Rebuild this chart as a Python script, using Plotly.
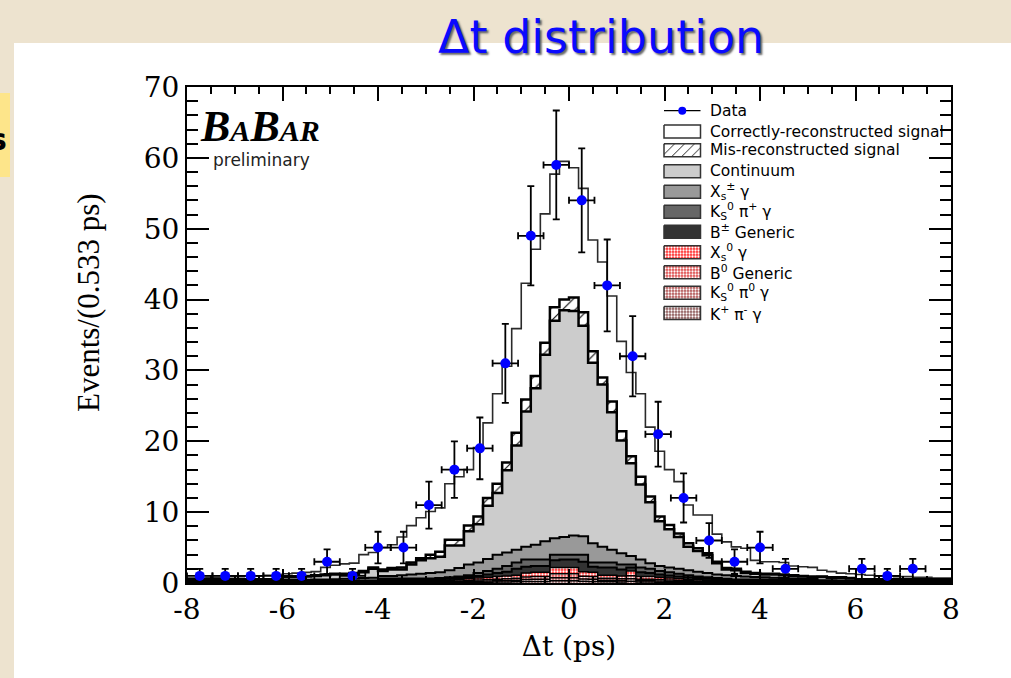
import numpy as np
import plotly.graph_objects as go

# ---------------- data ----------------
x_min, x_max = -8.0, 8.0
n_data_bins = 30
n_mc_bins = 80

data_counts = [1, 1, 1, 1, 1, 3, 1, 5, 5, 11, 16, 19, 31, 49, 59,
               54, 42, 32, 21, 12, 6, 3, 5, 2, 0, 0, 2, 1, 2, 0]

# stacked MC components (events per 0.533 ps, 0.2 ps bins), bottom -> top
kpi_gamma = [0.01]*10 + [0.02]*10 + [0.05]*6 + [0.06, 0.06, 0.07, 0.08] + \
    [0.10, 0.12, 0.14, 0.15, 0.17, 0.20, 0.22, 0.22, 0.30, 0.30] + \
    [0.30, 0.25, 0.22, 0.18, 0.17, 0.15, 0.25, 0.14, 0.13, 0.12] + \
    [0.10, 0.09, 0.08, 0.07, 0.06, 0.05, 0.05, 0.04, 0.04, 0.04] + \
    [0.04]*6 + [0.02]*4 + [0.01]*10
ks0pi0_gamma = [0.01]*10 + [0.03]*10 + [0.06]*6 + [0.07, 0.08, 0.09, 0.12] + \
    [0.14, 0.16, 0.18, 0.20, 0.22, 0.28, 0.30, 0.30, 0.45, 0.45] + \
    [0.45, 0.32, 0.30, 0.22, 0.22, 0.20, 0.35, 0.18, 0.18, 0.16] + \
    [0.14, 0.12, 0.10, 0.09, 0.08, 0.07, 0.06, 0.05, 0.05, 0.05] + \
    [0.05]*6 + [0.03]*4 + [0.01]*10
b0_generic = [0.02]*10 + [0.04]*10 + [0.08]*6 + [0.09, 0.10, 0.11, 0.15] + \
    [0.18, 0.20, 0.22, 0.25, 0.28, 0.35, 0.38, 0.38, 0.55, 0.55] + \
    [0.55, 0.40, 0.38, 0.28, 0.28, 0.25, 0.42, 0.22, 0.22, 0.20] + \
    [0.18, 0.15, 0.12, 0.11, 0.10, 0.09, 0.08, 0.06, 0.06, 0.06] + \
    [0.06]*6 + [0.04]*4 + [0.02]*10
xs0_gamma = [0.02]*10 + [0.05]*10 + [0.11]*6 + [0.13, 0.16, 0.18, 0.25] + \
    [0.28, 0.32, 0.36, 0.40, 0.43, 0.57, 0.60, 0.60, 0.90, 0.90] + \
    [0.90, 0.63, 0.60, 0.42, 0.43, 0.40, 0.68, 0.36, 0.37, 0.32] + \
    [0.28, 0.24, 0.20, 0.18, 0.16, 0.14, 0.11, 0.10, 0.10, 0.10] + \
    [0.10]*6 + [0.06]*4 + [0.02]*10
bpm_generic = [0.05]*10 + [0.10]*10 + [0.20]*6 + [0.20, 0.20, 0.25, 0.25] + \
    [0.30, 0.40, 0.50, 0.60, 0.90, 0.90, 0.90, 0.90, 1.00, 1.10] + \
    [1.10, 1.40, 0.80, 1.10, 1.10, 0.90, 0.50, 0.60, 0.50, 0.40] + \
    [0.35, 0.30, 0.30, 0.25, 0.20, 0.20, 0.20, 0.15, 0.15, 0.15] + \
    [0.15]*6 + [0.08]*4 + [0.05]*10
ks0pip_gamma = [0.05]*10 + [0.10]*10 + [0.15]*6 + [0.15, 0.20, 0.20, 0.25] + \
    [0.40, 0.50, 0.60, 0.80, 0.90, 1.00, 0.90, 0.90, 0.80, 0.70] + \
    [0.70, 1.00, 0.60, 0.70, 0.70, 0.70, 0.40, 0.70, 0.60, 0.50] + \
    [0.45, 0.40, 0.30, 0.20, 0.20, 0.15, 0.10, 0.10, 0.10, 0.10] + \
    [0.10]*6 + [0.07]*4 + [0.05]*10
xspm_gamma = [0.06]*10 + \
    [0.10, 0.10, 0.12, 0.14, 0.16, 0.20, 0.25, 0.30, 0.35, 0.40] + \
    [0.35, 0.35, 0.45, 0.55, 0.65, 0.75, 0.80, 1.00, 1.20, 1.50] + \
    [1.50, 1.70, 2.00, 1.90, 1.80, 1.80, 2.10, 2.60, 2.30, 2.50] + \
    [2.70, 2.60, 2.70, 2.20, 1.80, 1.60, 1.20, 1.10, 0.80, 0.70] + \
    [0.70, 0.70, 0.70, 0.70, 0.60, 0.50, 0.50, 0.50, 0.40, 0.35] + \
    [0.30, 0.25, 0.20, 0.15, 0.10, 0.05, 0.10, 0.08, 0.05, 0.02] + \
    [0.06]*10
continuum = [0.25]*10 + \
    [0.36, 0.36, 0.44, 0.52, 0.60, 0.66, 0.61, 0.66, 0.81, 1.26] + \
    [0.70, 0.90, 0.80, 1.40, 1.90, 2.10, 2.20, 3.50, 3.20, 4.70] + \
    [5.40, 7.50, 8.70, 11.60, 14.70, 19.10, 22.10, 26.30, 30.70, 32.00] + \
    [31.70, 29.70, 25.50, 22.90, 19.40, 15.90, 13.10, 10.60, 8.60, 6.30] + \
    [5.40, 4.50, 3.30, 2.90, 2.50, 1.60, 0.80, 0.80, 0.50, 0.45] + \
    [0.40, 0.45, 0.40, 0.35, 0.30, 0.25, 0.45, 0.37, 0.40, 0.33] + \
    [0.25]*10
misreco_signal = [0.05]*10 + [0.10]*8 + [0.20, 0.20] + \
    [0.20, 0.20, 0.30, 0.30, 0.30, 0.50, 0.70, 0.80, 0.80, 0.80] + \
    [1.10, 1.10, 1.30, 1.10, 1.80, 1.70, 1.70, 1.70, 1.90, 1.50] + \
    [1.90, 1.90, 1.60, 1.00, 1.50, 1.30, 1.00, 1.10, 0.80, 0.70] + \
    [0.60, 0.50, 0.50, 0.40, 0.30, 0.20, 0.20, 0.20, 0.20, 0.10] + \
    [0.10]*6 + [0.05]*4 + [0.05]*10
correct_signal = [0.18, 0.18, 0.28, 0.28, 0.38, 0.38, 0.48, 0.48, 0.58, 0.68] + \
    [0.40, 0.50, 0.50, 0.50, 1.00, 1.20, 1.40, 1.40, 2.30, 2.10] + \
    [3.10, 3.30, 4.30, 5.20, 5.70, 6.10, 6.20, 7.90, 8.90, 7.90] + \
    [9.70, 10.60, 12.70, 13.60, 14.70, 16.40, 17.90, 18.20, 18.80, 19.50] + \
    [18.30, 17.50, 15.70, 16.30, 14.90, 12.70, 11.80, 11.70, 9.80, 9.20] + \
    [7.80, 7.30, 5.40, 4.70, 5.40, 3.90, 3.70, 3.10, 3.30, 1.80] + \
    [1.70, 1.70, 1.70, 1.30, 1.30, 1.30, 0.90, 0.80, 0.60, 0.60] + \
    [0.68, 0.58, 0.48, 0.48, 0.38, 0.38, 0.28, 0.28, 0.18, 0.18]

x_ticks = [-8, -6, -4, -2, 0, 2, 4, 6, 8]
x_ticktext = ["-8", "-6", "-4", "-2", "0", "2", "4", "6", "8"]
y_ticks = [0, 10, 20, 30, 40, 50, 60, 70]
y_ticktext = ["0", "10", "20", "30", "40", "50", "60", "70"]

# ---------------- geometry helpers ----------------
W, H = 1011, 678
ML, MR, MT, MB = 187, 60, 87, 95
PW, PH = W - ML - MR, H - MT - MB


def px(x):
    return (x - ML) / PW


def py(y):
    return (H - MB - y) / PH


# ---------------- styles (bottom -> top) ----------------
RED_PAT = dict(shape=".", fgcolor="white", size=3, solidity=0.45)
layers = [
    ("K<sup>+</sup> π<sup>-</sup> γ", kpi_gamma, dict(color="#8e5a5a", pat=RED_PAT, lw=1.5)),
    ("K<sub>S</sub><sup>0</sup> π<sup>0</sup> γ", ks0pi0_gamma, dict(color="#b25454", pat=RED_PAT, lw=1.5)),
    ("B<sup>0</sup> Generic", b0_generic, dict(color="#dd4a4a", pat=RED_PAT, lw=1.5)),
    ("X<sub>s</sub><sup>0</sup> γ", xs0_gamma, dict(color="#ff2a2a", pat=RED_PAT, lw=1.5)),
    ("B<sup>±</sup> Generic", bpm_generic, dict(color="#333333", pat=None, lw=2)),
    ("K<sub>S</sub><sup>0</sup> π<sup>+</sup> γ", ks0pip_gamma, dict(color="#666666", pat=None, lw=2)),
    ("X<sub>s</sub><sup>±</sup> γ", xspm_gamma, dict(color="#999999", pat=None, lw=2)),
    ("Continuum", continuum, dict(color="#cccccc", pat=None, lw=2.5)),
    ("Mis-reconstructed signal", misreco_signal,
     dict(color="white", pat=dict(shape="/", fgcolor="black", bgcolor="white", size=9, solidity=0.12), lw=2.5)),
    ("Correctly-reconstructed signal", correct_signal, dict(color="white", pat=None, lw=1.6, lc="#2a2a2a")),
]

edges = np.linspace(x_min, x_max, n_mc_bins + 1)
cum = np.cumsum(np.array([l[1] for l in layers], dtype=float), axis=0)

fig = go.Figure()

# draw cumulative histograms, top first
for idx in range(len(layers) - 1, -1, -1):
    name, _, st = layers[idx]
    top = cum[idx]
    yv = list(top) + [top[-1]]
    kw = dict(
        x=edges, y=yv, mode="lines", line=dict(shape="hv", color=st.get("lc", "black"), width=st["lw"]),
        fill="tozeroy", fillcolor=st["color"], showlegend=False, hoverinfo="skip",
    )
    if st["pat"] is not None:
        pat = dict(st["pat"])
        pat.setdefault("bgcolor", st["color"])
        kw["fillpattern"] = pat
    fig.add_trace(go.Scatter(**kw))

# data points
bw = (x_max - x_min) / n_data_bins
centers = x_min + bw * (np.arange(n_data_bins) + 0.5)
dc = np.array(data_counts, dtype=float)
mask = dc > 0
fig.add_trace(go.Scatter(
    x=centers[mask], y=dc[mask], mode="markers",
    marker=dict(color="#0000ff", size=10),
    error_y=dict(type="data", array=np.sqrt(dc[mask]), color="black", thickness=1.8, width=3.5),
    error_x=dict(type="constant", value=bw / 2, color="black", thickness=1.8, width=3.5),
    showlegend=False, hoverinfo="skip",
))

# ---------------- manual legend (pixel-space overlay axes) ----------------
leg_x0, leg_x1 = 664, 700.5
text_x = 708
leg_rows = [110.7, 131.5, 150.3, 171.2, 191.7, 211.7, 231.7, 252.3, 272.3, 292.8, 313.0]
box_h = 13
legend_texts = ["Data"] + [layers[i][0] for i in range(len(layers) - 1, -1, -1)]

# data legend glyph
fig.add_trace(go.Scatter(x=[leg_x0, leg_x1], y=[leg_rows[0]] * 2, mode="lines",
                         line=dict(color="black", width=1.2), xaxis="x2", yaxis="y2",
                         showlegend=False, hoverinfo="skip"))
fig.add_trace(go.Scatter(x=[(leg_x0 + leg_x1) / 2], y=[leg_rows[0]], mode="markers",
                         marker=dict(color="#0000ff", size=8), xaxis="x2", yaxis="y2",
                         showlegend=False, hoverinfo="skip"))
for k, idx in enumerate(range(len(layers) - 1, -1, -1)):
    name, _, st = layers[idx]
    yc = leg_rows[k + 1]
    kw = dict(
        x=[leg_x0, leg_x1, leg_x1, leg_x0, leg_x0],
        y=[yc - box_h / 2, yc - box_h / 2, yc + box_h / 2, yc + box_h / 2, yc - box_h / 2],
        mode="lines", fill="toself", fillcolor=st["color"],
        line=dict(color="#333333", width=1.5), xaxis="x2", yaxis="y2",
        showlegend=False, hoverinfo="skip",
    )
    if st["pat"] is not None:
        pat = dict(st["pat"])
        pat.setdefault("bgcolor", st["color"])
        if pat["shape"] == "/":
            pat["size"] = 7
        kw["fillpattern"] = pat
    fig.add_trace(go.Scatter(**kw))

annotations = []
for k, txt in enumerate(legend_texts):
    annotations.append(dict(
        x=px(text_x), y=py(leg_rows[k]), xref="paper", yref="paper", text=txt,
        xanchor="left", yanchor="middle", showarrow=False,
        font=dict(family="DejaVu Sans", size=15.5, color="black"),
    ))

# BaBar logo
annotations.append(dict(
    x=px(198), y=py(126), xref="paper", yref="paper", xanchor="left", yanchor="middle",
    text="<b><i>B<span style='font-size:30px'>A</span>B<span style='font-size:30px'>AR</span></i></b>",
    showarrow=False, font=dict(family="Liberation Serif", size=44, color="black"),
))
annotations.append(dict(
    x=px(211), y=py(160), xref="paper", yref="paper", xanchor="left", yanchor="middle",
    text="preliminary", showarrow=False, font=dict(family="DejaVu Sans", size=17, color="#222222"),
))

# y-axis title (placed like the ROOT original, above the axis centre)
annotations.append(dict(
    x=px(88), y=py(302), xref="paper", yref="paper", xanchor="center", yanchor="middle",
    text="Events/(0.533 ps)", textangle=-90, showarrow=False,
    font=dict(family="Liberation Serif", size=31, color="black"),
))

# slide title
annotations.append(dict(
    x=px(601), y=py(37), xref="paper", yref="paper", xanchor="center", yanchor="middle",
    text="Δt distribution", showarrow=False,
    font=dict(family="DejaVu Sans", size=46, color="#0a0aff", shadow="2px 2px 2px #666666"),
))
# cut-off slide text at left edge (partly outside the page, as in the slide)
annotations.append(dict(
    x=px(9), y=py(140), xref="paper", yref="paper", xanchor="right", yanchor="middle",
    text="<b>s</b>", showarrow=False, font=dict(family="DejaVu Sans", size=30, color="black"),
))

shapes = [
    dict(type="rect", xref="paper", yref="paper", x0=px(14), x1=px(1011), y0=py(680), y1=py(43),
         fillcolor="white", line=dict(width=0), layer="below"),
    dict(type="rect", xref="paper", yref="paper", x0=px(-2), x1=px(10), y0=py(177), y1=py(93),
         fillcolor="#fde58a", line=dict(width=0), layer="below"),
]

axis_common = dict(
    showgrid=False, zeroline=False, showline=True, linecolor="black", linewidth=2,
    mirror="allticks", ticks="inside", tickcolor="black", tickwidth=1.5, automargin=False,
)

fig.update_layout(
    width=W, height=H,
    margin=dict(l=ML, r=MR, t=MT, b=MB),
    paper_bgcolor="#ede3cf", plot_bgcolor="white",
    template="none",
    showlegend=False,
    xaxis=dict(
        **axis_common, range=[x_min, x_max], tickvals=x_ticks, ticktext=x_ticktext, ticklen=14,
        minor=dict(dtick=0.5, tick0=0, ticklen=7, ticks="inside", tickcolor="black", tickwidth=1.5),
        tickfont=dict(family="DejaVu Serif", size=28, color="black"),
        title=dict(text="Δt (ps)", font=dict(family="DejaVu Serif", size=28, color="black"), standoff=12),
    ),
    yaxis=dict(
        **axis_common, range=[0, 70], tickvals=y_ticks, ticktext=y_ticktext, ticklen=22,
        minor=dict(dtick=2, tick0=0, ticklen=11, ticks="inside", tickcolor="black", tickwidth=1.5),
        tickfont=dict(family="DejaVu Serif", size=28, color="black"),
    ),
    xaxis2=dict(range=[ML, W - MR], domain=[0, 1], overlaying="x", anchor="y2", visible=False,
                fixedrange=True),
    yaxis2=dict(range=[H - MB, MT], domain=[0, 1], overlaying="y", anchor="x2", visible=False,
                fixedrange=True),
    annotations=annotations,
    shapes=shapes,
)

fig.write_html("out.html")
